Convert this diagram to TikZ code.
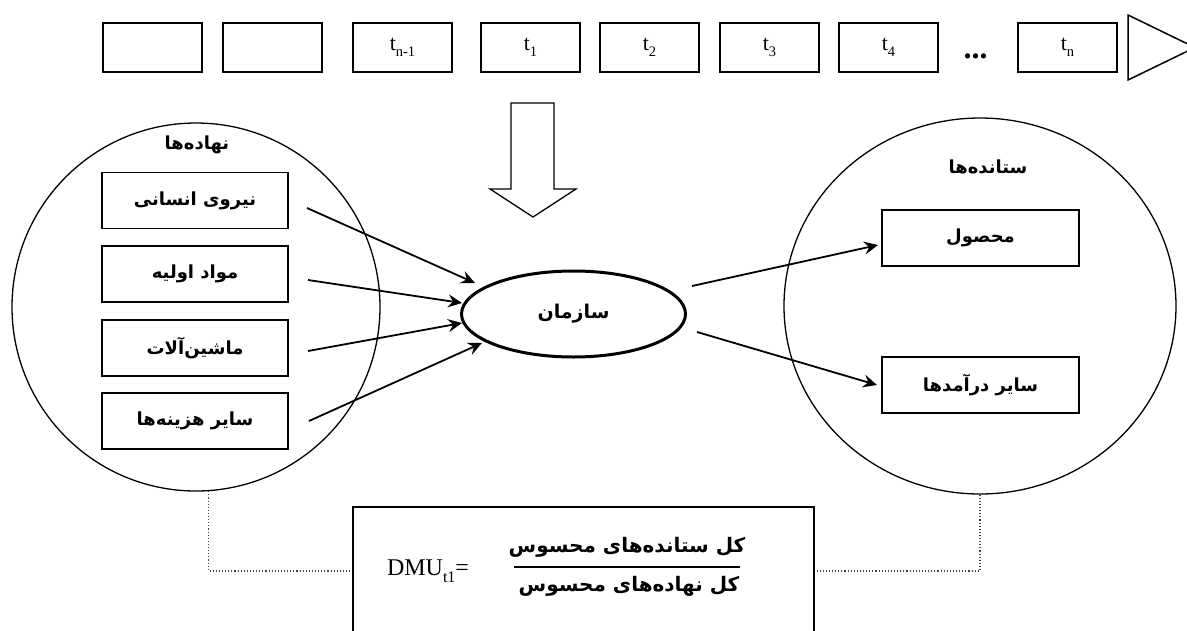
\documentclass[tikz,border=0pt]{standalone}
\usepackage{fontspec}
\setmainfont{Liberation Serif}
\newfontfamily\fa[Script=Arabic]{DejaVu Sans}
\TeXXeTstate=1
\usetikzlibrary{shapes.geometric,arrows.meta,calc}
% lowered, smaller index text for the time labels
\newcommand\lsub[2][14.5]{\raisebox{-0.3em}{\fontsize{#1}{#1}\selectfont #2}}
\newcommand\fatext[1]{{\fa\beginR #1\endR}}

\tikzset{
  tbox/.style={draw, line width=1.8pt, minimum width=99pt, minimum height=49pt,
               inner sep=0pt, font=\fontsize{22}{22}\selectfont},
  inbox/.style={draw, line width=1.8pt, minimum width=186pt, minimum height=56pt,
                inner sep=0pt, font=\fontsize{18}{18}\selectfont\bfseries},
  outbox/.style={inbox, minimum width=197pt},
  ring/.style={draw, line width=1.3pt, inner sep=0pt},
  ptitle/.style={font=\fontsize{18}{18}\selectfont\bfseries, inner sep=0pt},
  flow/.style={line width=1.8pt, -{Stealth[length=14pt, width=13pt, inset=5pt]}},
  linkdots/.style={dotted, line width=1.1pt, black!75},
}

\begin{document}
\begin{tikzpicture}[x=1pt, y=-1pt]
\clip (0,0) rectangle (1187,630);
\useasboundingbox (0,0) rectangle (1187,630);

% time line
\node[tbox] (b1) at (152.5,47.5) {};
\node[tbox] (b2) at (272.5,47.5) {};
\node[tbox] (b3) at (402.5,47.5) {t\lsub{n-1}};
\node[tbox] (b4) at (530.5,47.5) {t\lsub{1}};
\node[tbox] (b5) at (649.5,47.5) {t\lsub{2}};
\node[tbox] (b6) at (769.5,47.5) {t\lsub{3}};
\node[tbox] (b7) at (888.5,47.5) {t\lsub{4}};
\node[font=\fontsize{32}{32}\selectfont\bfseries, inner sep=0pt] (dots) at (975.5,56) {...};
\node[tbox] (b8) at (1067.5,47.5) {t\lsub{n}};
\draw[line width=1.5pt, line join=miter] (1128,15) -- (1195,47.5) -- (1128,80) -- cycle;

% hollow arrow from the time line down to the organisation
\draw[line width=1.3pt, fill=white] (511,103) -- (554,103) -- (554,189) -- (576,189)
  -- (533,217) -- (490,189) -- (511,189) -- cycle;

% inputs
\node[ring, circle, minimum size=368pt] (lc) at (196,307) {};
\node[ptitle] (inT) at (197,145) {\fatext{نهاده^^^^200cها}};
\node[inbox] (i1) at (195,200.5) {\fatext{نیروی انسانی}};
\node[inbox] (i2) at (195,274) {\fatext{مواد اولیه}};
\node[inbox] (i3) at (195,348) {\fatext{ماشین^^^^200cآلات}};
\node[inbox] (i4) at (195,421) {\fatext{سایر هزینه^^^^200cها}};

% organisation
\node[ellipse, draw, line width=3pt, minimum width=224pt, minimum height=86pt,
      font=\fontsize{19}{19}\selectfont\bfseries] (org) at (573.5,314) {\fatext{سازمان}};

% outputs
\node[ring, ellipse, minimum width=392pt, minimum height=376pt] (rc) at (980,306) {};
\node[ptitle] (outT) at (988,167) {\fatext{ستانده^^^^200cها}};
\node[outbox] (o1) at (980.5,238) {\fatext{محصول}};
\node[outbox] (o2) at (980.5,385) {\fatext{سایر درآمدها}};

% flows into and out of the organisation
\coordinate (s1) at (307,208); \coordinate (e1) at (475,283);
\coordinate (s2) at (308,280); \coordinate (e2) at (462,303);
\coordinate (s3) at (308,351); \coordinate (e3) at (462,323);
\coordinate (s4) at (309,421); \coordinate (e4) at (482,343);
\coordinate (s5) at (692,286); \coordinate (e5) at (878,245);
\coordinate (s6) at (697,332); \coordinate (e6) at (877,385);
\foreach \k in {1,...,6} \draw[flow] (s\k) -- (e\k);

% efficiency ratio
\node[draw, line width=1.5pt, minimum width=461pt, minimum height=128pt] (fbox) at (583.5,571) {};
\node[font=\fontsize{24}{24}\selectfont, inner sep=0pt] (dmu) at (428,571) {DMU\lsub[16]{t1}=};
\node[font=\fontsize{20}{20}\selectfont\bfseries, inner sep=0pt] (num) at (627,547) {\fatext{کل ستانده^^^^200cهای محسوس}};
\node[font=\fontsize{20}{20}\selectfont\bfseries, inner sep=0pt] (den) at (629,586) {\fatext{کل نهاده^^^^200cهای محسوس}};
\coordinate (fl) at (514,567); \coordinate (fr) at (740,567);
\draw[line width=1.6pt] (fl) -- (fr);

% dotted links from both circles to the ratio box
\draw[linkdots] (lc.-86) |- (fbox.west);
\draw[linkdots] (rc.south) |- (fbox.east);
\end{tikzpicture}
\end{document}
